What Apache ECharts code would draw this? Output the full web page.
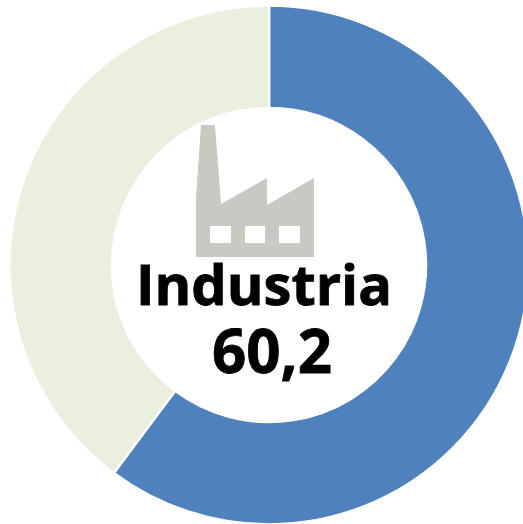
<!DOCTYPE html>
<html>
<head>
<meta charset="utf-8">
<style>
  html, body { margin: 0; padding: 0; background: #fff; }
  #chart { width: 523px; height: 524px; }
</style>
<script src="https://cdn.jsdelivr.net/npm/echarts@6/dist/echarts.min.js"></script>
</head>
<body>
<div id="chart"></div>
<script>
const categories = ['Industria', 'Resto']
const values = [60.2, 39.8]
const colors = ['#4f81bd', '#ebefdf']

// factory icon outline, page pixels
const factory = [[201, 125], [215, 125], [221, 204], [267, 178], [267, 205], [314, 178], [314, 257], [196, 257], [196, 198]]
const windows = [[210, 226, 21, 17], [245, 226, 20, 17], [279, 226, 21, 17]]

const fontFamily = '"Open Sans", sans-serif'

let chart = echarts.init(document.getElementById('chart'), null, { renderer: 'canvas' })
chart.setOption({
  animation: false,
  series: [{
    type: 'pie',
    center: [269, 265],
    radius: [157, 259.5],
    startAngle: 90,
    clockwise: true,
    label: { show: false },
    labelLine: { show: false },
    silent: true,
    itemStyle: { borderColor: '#fff', borderWidth: 2.5 },
    data: categories.map((name, i) => ({ name, value: values[i], itemStyle: { color: colors[i] } }))
  }],
  graphic: [
    { type: 'polygon', shape: { points: factory }, style: { fill: '#c9c8c3' } },
    ...windows.map(w => ({
      type: 'rect',
      shape: { x: w[0], y: w[1], width: w[2], height: w[3] },
      style: { fill: '#fff' }
    })),
    {
      type: 'text', x: 264, y: 317,
      style: { text: categories[0], fill: '#000', stroke: '#000', lineWidth: 0.8, font: 'bold 56px ' + fontFamily, textAlign: 'center', textVerticalAlign: 'bottom' }
    },
    {
      type: 'text', x: 272, y: 386,
      style: { text: String(values[0]).replace('.', ','), fill: '#000', stroke: '#000', lineWidth: 0.8, font: 'bold 60px ' + fontFamily, textAlign: 'center', textVerticalAlign: 'bottom' }
    }
  ]
})
</script>
</body>
</html>
